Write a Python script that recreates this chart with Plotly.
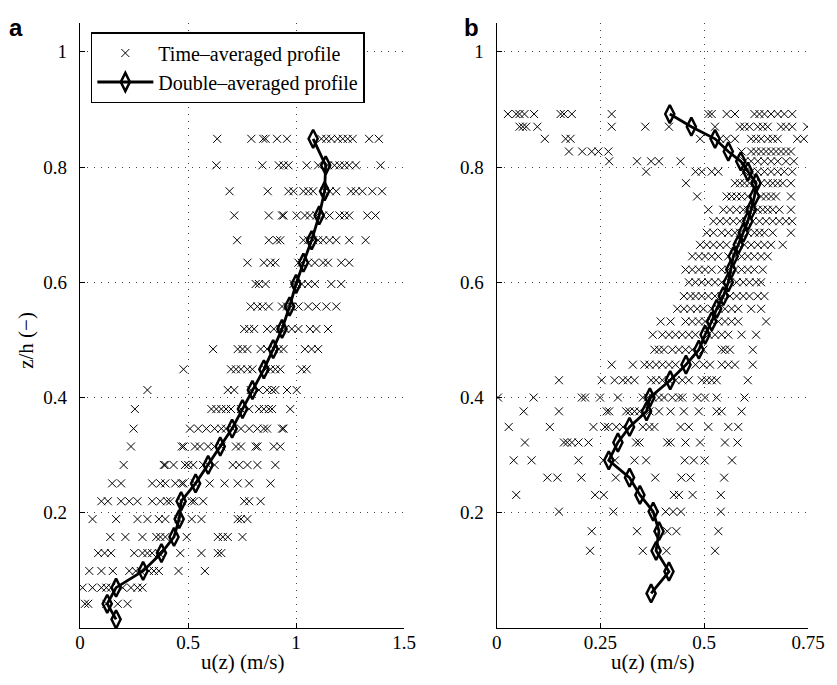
import plotly.graph_objects as go

# ---------------- Panel a data ----------------
a_mean_z = [0.015, 0.042, 0.070, 0.099, 0.130, 0.158, 0.189, 0.220, 0.251, 0.283, 0.315, 0.346,
            0.380, 0.413, 0.449, 0.484, 0.519, 0.558, 0.597, 0.634, 0.673, 0.716, 0.758, 0.803, 0.849]
a_mean_u = [0.167, 0.126, 0.167, 0.292, 0.377, 0.435, 0.459, 0.468, 0.535, 0.593, 0.649, 0.704,
            0.752, 0.798, 0.851, 0.894, 0.935, 0.970, 1.000, 1.034, 1.072, 1.107, 1.132, 1.137, 1.079]

a_row_z = [0.042, 0.070, 0.099, 0.130, 0.158, 0.189, 0.220, 0.251, 0.283, 0.315, 0.346, 0.380,
           0.413, 0.449, 0.484, 0.519, 0.558, 0.597, 0.634, 0.673, 0.716, 0.758, 0.803, 0.849]
a_row_u = [
    [0.023, 0.038, 0.122, 0.175, 0.220],
    [0.012, 0.058, 0.099, 0.122, 0.144, 0.198, 0.236, 0.266, 0.289],
    [0.043, 0.099, 0.152, 0.228, 0.258, 0.281, 0.319, 0.342, 0.365, 0.456, 0.578],
    [0.084, 0.114, 0.144, 0.251, 0.289, 0.312, 0.334, 0.365, 0.464, 0.562, 0.638, 0.654],
    [0.140, 0.210, 0.289, 0.353, 0.372, 0.395, 0.494, 0.638, 0.661, 0.684, 0.752],
    [0.058, 0.167, 0.266, 0.312, 0.365, 0.395, 0.456, 0.517, 0.562, 0.730, 0.745, 0.775],
    [0.099, 0.129, 0.190, 0.228, 0.266, 0.334, 0.372, 0.403, 0.418, 0.471, 0.517, 0.529, 0.570, 0.760, 0.783, 0.836],
    [0.149, 0.190, 0.334, 0.372, 0.395, 0.441, 0.471, 0.479, 0.532, 0.600, 0.669, 0.730, 0.783, 0.882],
    [0.202, 0.388, 0.395, 0.433, 0.486, 0.501, 0.524, 0.570, 0.593, 0.623, 0.707, 0.737, 0.775, 0.821, 0.904],
    [0.236, 0.471, 0.479, 0.532, 0.555, 0.593, 0.623, 0.654, 0.722, 0.745, 0.813, 0.821, 0.897, 0.927],
    [0.248, 0.509, 0.547, 0.585, 0.623, 0.654, 0.676, 0.707, 0.745, 0.783, 0.821, 0.851, 0.866, 0.935, 0.942],
    [0.254, 0.608, 0.631, 0.654, 0.676, 0.699, 0.745, 0.783, 0.828, 0.851, 0.874, 0.889, 0.973],
    [0.312, 0.684, 0.714, 0.790, 0.828, 0.866, 0.889, 0.904, 0.958, 1.003],
    [0.479, 0.699, 0.722, 0.745, 0.775, 0.798, 0.859, 0.882, 0.904, 0.927, 1.026, 1.049],
    [0.616, 0.730, 0.752, 0.775, 0.836, 0.866, 0.897, 0.920, 0.942, 1.041, 1.072, 1.102],
    [0.760, 0.783, 0.806, 0.866, 0.897, 0.927, 0.950, 0.980, 1.011, 1.064, 1.094, 1.148],
    [0.790, 0.821, 0.844, 0.874, 0.935, 0.958, 0.980, 1.011, 1.056, 1.094, 1.140, 1.186],
    [0.813, 0.828, 0.859, 0.988, 1.003, 1.026, 1.056, 1.087, 1.163, 1.209],
    [0.775, 0.851, 0.882, 0.904, 1.011, 1.026, 1.056, 1.087, 1.125, 1.148, 1.209, 1.246],
    [0.727, 0.874, 0.912, 0.927, 1.034, 1.056, 1.079, 1.102, 1.125, 1.155, 1.186, 1.246, 1.322],
    [0.714, 0.874, 0.935, 0.942, 1.003, 1.041, 1.064, 1.094, 1.125, 1.155, 1.201, 1.224, 1.246, 1.330, 1.368],
    [0.692, 0.869, 0.965, 0.988, 1.034, 1.057, 1.079, 1.133, 1.156, 1.186, 1.254, 1.277, 1.307, 1.353, 1.398],
    [0.631, 0.844, 0.920, 0.942, 0.965, 1.049, 1.102, 1.148, 1.178, 1.201, 1.224, 1.246, 1.277, 1.391],
    [0.635, 0.793, 0.848, 0.859, 0.912, 0.958, 1.117, 1.140, 1.163, 1.193, 1.216, 1.239, 1.262, 1.338, 1.383],
]

# ---------------- Panel b data ----------------
b_mean_z = [0.060, 0.098, 0.134, 0.168, 0.202, 0.231, 0.261, 0.291, 0.322, 0.349, 0.376, 0.400,
            0.430, 0.457, 0.483, 0.509, 0.532, 0.554, 0.576, 0.600, 0.622, 0.645, 0.665, 0.686,
            0.706, 0.726, 0.749, 0.772, 0.792, 0.810, 0.827, 0.849, 0.870, 0.892]
b_mean_u = [0.372, 0.415, 0.384, 0.391, 0.377, 0.345, 0.320, 0.270, 0.292, 0.320, 0.361, 0.369,
            0.418, 0.456, 0.487, 0.502, 0.518, 0.530, 0.546, 0.558, 0.564, 0.570, 0.582, 0.594,
            0.605, 0.613, 0.621, 0.625, 0.605, 0.588, 0.558, 0.526, 0.469, 0.417]

b_row_z = [0.134, 0.168, 0.202, 0.231, 0.261, 0.291, 0.322, 0.349, 0.376, 0.400, 0.430, 0.457,
           0.483, 0.509, 0.532, 0.554, 0.576, 0.600, 0.622, 0.645, 0.665, 0.686, 0.706, 0.726,
           0.749, 0.772, 0.792, 0.810, 0.827, 0.849, 0.870, 0.892]
b_row_u = [
    [0.225, 0.352, 0.409, 0.526],
    [0.229, 0.338, 0.411, 0.433, 0.534],
    [0.150, 0.281, 0.407, 0.425, 0.444, 0.540],
    [0.047, 0.237, 0.258, 0.427, 0.439, 0.472, 0.540],
    [0.122, 0.146, 0.204, 0.287, 0.382, 0.445, 0.467, 0.548],
    [0.041, 0.084, 0.197, 0.257, 0.285, 0.332, 0.360, 0.453, 0.475, 0.501, 0.567],
    [0.068, 0.162, 0.170, 0.181, 0.197, 0.221, 0.336, 0.344, 0.411, 0.419, 0.455, 0.490, 0.550, 0.580],
    [0.029, 0.128, 0.233, 0.261, 0.269, 0.288, 0.304, 0.352, 0.368, 0.380, 0.443, 0.463, 0.510, 0.558, 0.582],
    [0.065, 0.150, 0.265, 0.271, 0.312, 0.320, 0.332, 0.344, 0.368, 0.391, 0.419, 0.451, 0.487, 0.530, 0.542, 0.590],
    [0.003, 0.089, 0.205, 0.213, 0.249, 0.292, 0.352, 0.364, 0.376, 0.391, 0.403, 0.423, 0.439, 0.447, 0.483, 0.502, 0.530, 0.597],
    [0.150, 0.253, 0.284, 0.304, 0.316, 0.332, 0.372, 0.384, 0.399, 0.415, 0.431, 0.447, 0.463, 0.494, 0.506, 0.518, 0.530, 0.605],
    [0.277, 0.328, 0.356, 0.368, 0.384, 0.399, 0.415, 0.431, 0.479, 0.498, 0.514, 0.542, 0.558, 0.574, 0.617],
    [0.380, 0.391, 0.403, 0.423, 0.439, 0.455, 0.471, 0.498, 0.542, 0.550, 0.562, 0.617],
    [0.376, 0.399, 0.415, 0.431, 0.447, 0.463, 0.479, 0.510, 0.526, 0.542, 0.558, 0.590, 0.625],
    [0.395, 0.419, 0.455, 0.471, 0.487, 0.502, 0.518, 0.534, 0.550, 0.566, 0.582, 0.649],
    [0.435, 0.451, 0.467, 0.483, 0.498, 0.518, 0.534, 0.550, 0.566, 0.582, 0.613, 0.637],
    [0.451, 0.467, 0.479, 0.494, 0.510, 0.526, 0.542, 0.562, 0.578, 0.594, 0.609, 0.629, 0.645],
    [0.463, 0.479, 0.494, 0.510, 0.526, 0.542, 0.562, 0.578, 0.594, 0.609, 0.625, 0.637],
    [0.455, 0.471, 0.487, 0.502, 0.518, 0.542, 0.558, 0.574, 0.590, 0.605, 0.621, 0.641],
    [0.471, 0.487, 0.502, 0.518, 0.534, 0.558, 0.574, 0.590, 0.605, 0.621, 0.637, 0.653],
    [0.490, 0.506, 0.522, 0.538, 0.554, 0.582, 0.597, 0.613, 0.629, 0.645, 0.661, 0.689],
    [0.506, 0.522, 0.542, 0.558, 0.574, 0.586, 0.605, 0.621, 0.633, 0.645, 0.665, 0.709],
    [0.522, 0.538, 0.554, 0.570, 0.586, 0.602, 0.617, 0.633, 0.649, 0.665, 0.681, 0.697, 0.712],
    [0.510, 0.546, 0.562, 0.578, 0.594, 0.605, 0.617, 0.629, 0.641, 0.653, 0.665, 0.681, 0.709],
    [0.483, 0.554, 0.566, 0.578, 0.590, 0.605, 0.637, 0.649, 0.661, 0.673, 0.709],
    [0.456, 0.574, 0.586, 0.597, 0.609, 0.621, 0.637, 0.653, 0.665, 0.677, 0.689, 0.709],
    [0.360, 0.479, 0.494, 0.518, 0.534, 0.597, 0.613, 0.629, 0.645, 0.661, 0.677, 0.693, 0.712],
    [0.271, 0.338, 0.372, 0.391, 0.443, 0.597, 0.613, 0.629, 0.645, 0.661, 0.677, 0.697, 0.716],
    [0.174, 0.206, 0.229, 0.245, 0.269, 0.590, 0.613, 0.625, 0.637, 0.649, 0.661, 0.673, 0.685, 0.697, 0.709],
    [0.116, 0.166, 0.178, 0.490, 0.538, 0.554, 0.574, 0.613, 0.625, 0.637, 0.653, 0.665, 0.677, 0.724, 0.740],
    [0.055, 0.063, 0.071, 0.098, 0.277, 0.358, 0.415, 0.526, 0.586, 0.597, 0.609, 0.629, 0.641, 0.653, 0.685, 0.697, 0.712, 0.748],
    [0.027, 0.047, 0.055, 0.067, 0.090, 0.154, 0.162, 0.181, 0.277, 0.510, 0.518, 0.554, 0.574, 0.621, 0.633, 0.645, 0.661, 0.677, 0.693, 0.712],
]

a_xticks = [0, 0.5, 1, 1.5]
a_xticklabels = ["0", "0.5", "1", "1.5"]
b_xticks = [0, 0.25, 0.5, 0.75]
b_xticklabels = ["0", "0.25", "0.5", "0.75"]
yticks = [0.2, 0.4, 0.6, 0.8, 1]
yticklabels = ["0.2", "0.4", "0.6", "0.8", "1"]

legend_scatter = "Time\u2013averaged profile"
legend_mean = "Double\u2013averaged profile"
x_title = "u(z) (m/s)"
y_title = "z/h (\u2212)"


def flatten(zs, rows):
    xs, ys = [], []
    for z, r in zip(zs, rows):
        xs += r
        ys += [z] * len(r)
    return xs, ys


SERIF = "Liberation Serif"
SANS = "Liberation Sans"

# page body has an 8px margin: work in figure pixels = page pixels - 8
OFF = 8
W, H = 829, 677
L, T = 80 - OFF, 23 - OFF
R = W - (819 - OFF)
B = H - (628 - OFF)
pw = W - L - R
ph = H - T - B


def px_x(x):  # page px -> paper x
    return (x - OFF - L) / pw


def px_y(y):  # page px -> paper y
    return (H - B - (y - OFF)) / ph


fig = go.Figure()

ax, ay = flatten(a_row_z, a_row_u)
bx, by = flatten(b_row_z, b_row_u)

xmark = dict(symbol="x-thin-open", size=8, color="black", line=dict(color="black", width=1))
dmark = dict(symbol="diamond-tall-open", size=13, color="black", line=dict(color="black", width=2.5))
mline = dict(color="black", width=2.8)

fig.add_trace(go.Scatter(x=ax, y=ay, mode="markers", marker=xmark, name=legend_scatter,
                         xaxis="x", yaxis="y"))
fig.add_trace(go.Scatter(x=a_mean_u, y=a_mean_z, mode="lines+markers", marker=dmark,
                         line=mline, name=legend_mean, xaxis="x", yaxis="y"))
fig.add_trace(go.Scatter(x=bx, y=by, mode="markers", marker=xmark, showlegend=False,
                         xaxis="x2", yaxis="y2"))
fig.add_trace(go.Scatter(x=b_mean_u, y=b_mean_z, mode="lines+markers", marker=dmark,
                         line=mline, showlegend=False, xaxis="x2", yaxis="y2"))

axis_common = dict(
    showline=True, linecolor="black", linewidth=1.2, mirror=False,
    ticks="inside", ticklen=5, tickcolor="black", tickwidth=1,
    showgrid=True, gridcolor="#444444", gridwidth=1, griddash="1px,6px",
    zeroline=False, tickfont=dict(family=SERIF, size=19, color="black"),
)

fig.update_layout(
    width=W, height=H,
    margin=dict(l=L, r=R, t=T, b=B),
    paper_bgcolor="white", plot_bgcolor="white",
    font=dict(family=SERIF, color="black"),
    xaxis=dict(domain=[0, px_x(409)], range=[0, 1.5], tickvals=a_xticks,
               ticktext=a_xticklabels, anchor="y", ticklabelstandoff=-3, **axis_common),
    yaxis=dict(domain=[0, 1], range=[0, 1.05], tickvals=yticks, ticktext=yticklabels,
               anchor="x", ticklabelstandoff=8, **axis_common),
    xaxis2=dict(domain=[px_x(503), 1], range=[0, 0.75], tickvals=b_xticks,
                ticktext=b_xticklabels, anchor="y2", ticklabelstandoff=-3, **axis_common),
    yaxis2=dict(domain=[0, 1], range=[0, 1.05], tickvals=yticks, ticktext=yticklabels,
                anchor="x2", ticklabelstandoff=8, **axis_common),
    showlegend=True,
    legend=dict(x=px_x(91), y=px_y(32), xanchor="left", yanchor="top",
                bgcolor="white", bordercolor="black", borderwidth=1.5,
                font=dict(family=SERIF, size=20, color="black"),
                itemwidth=56, traceorder="normal", itemsizing="trace",
                entrywidth=290, entrywidthmode="pixels"),
    annotations=[
        dict(text="<b>a</b>", x=px_x(15), y=px_y(28), xref="paper", yref="paper",
             showarrow=False, font=dict(family=SANS, size=24, color="black"),
             xanchor="center", yanchor="middle"),
        dict(text="<b>b</b>", x=px_x(477), y=px_y(28), xref="paper", yref="paper",
             showarrow=False, font=dict(family=SANS, size=24, color="black"),
             xanchor="center", yanchor="middle"),
        dict(text=x_title, x=px_x(244.5), y=px_y(662), xref="paper", yref="paper",
             showarrow=False, font=dict(family=SERIF, size=21, color="black"),
             xanchor="center", yanchor="middle"),
        dict(text=x_title, x=px_x(661), y=px_y(662), xref="paper", yref="paper",
             showarrow=False, font=dict(family=SERIF, size=21, color="black"),
             xanchor="center", yanchor="middle"),
        dict(text=y_title, x=px_x(25), y=px_y(340), xref="paper", yref="paper",
             showarrow=False, textangle=-90, font=dict(family=SERIF, size=21, color="black"),
             xanchor="center", yanchor="middle"),
    ],
)

fig.write_html("out.html")
